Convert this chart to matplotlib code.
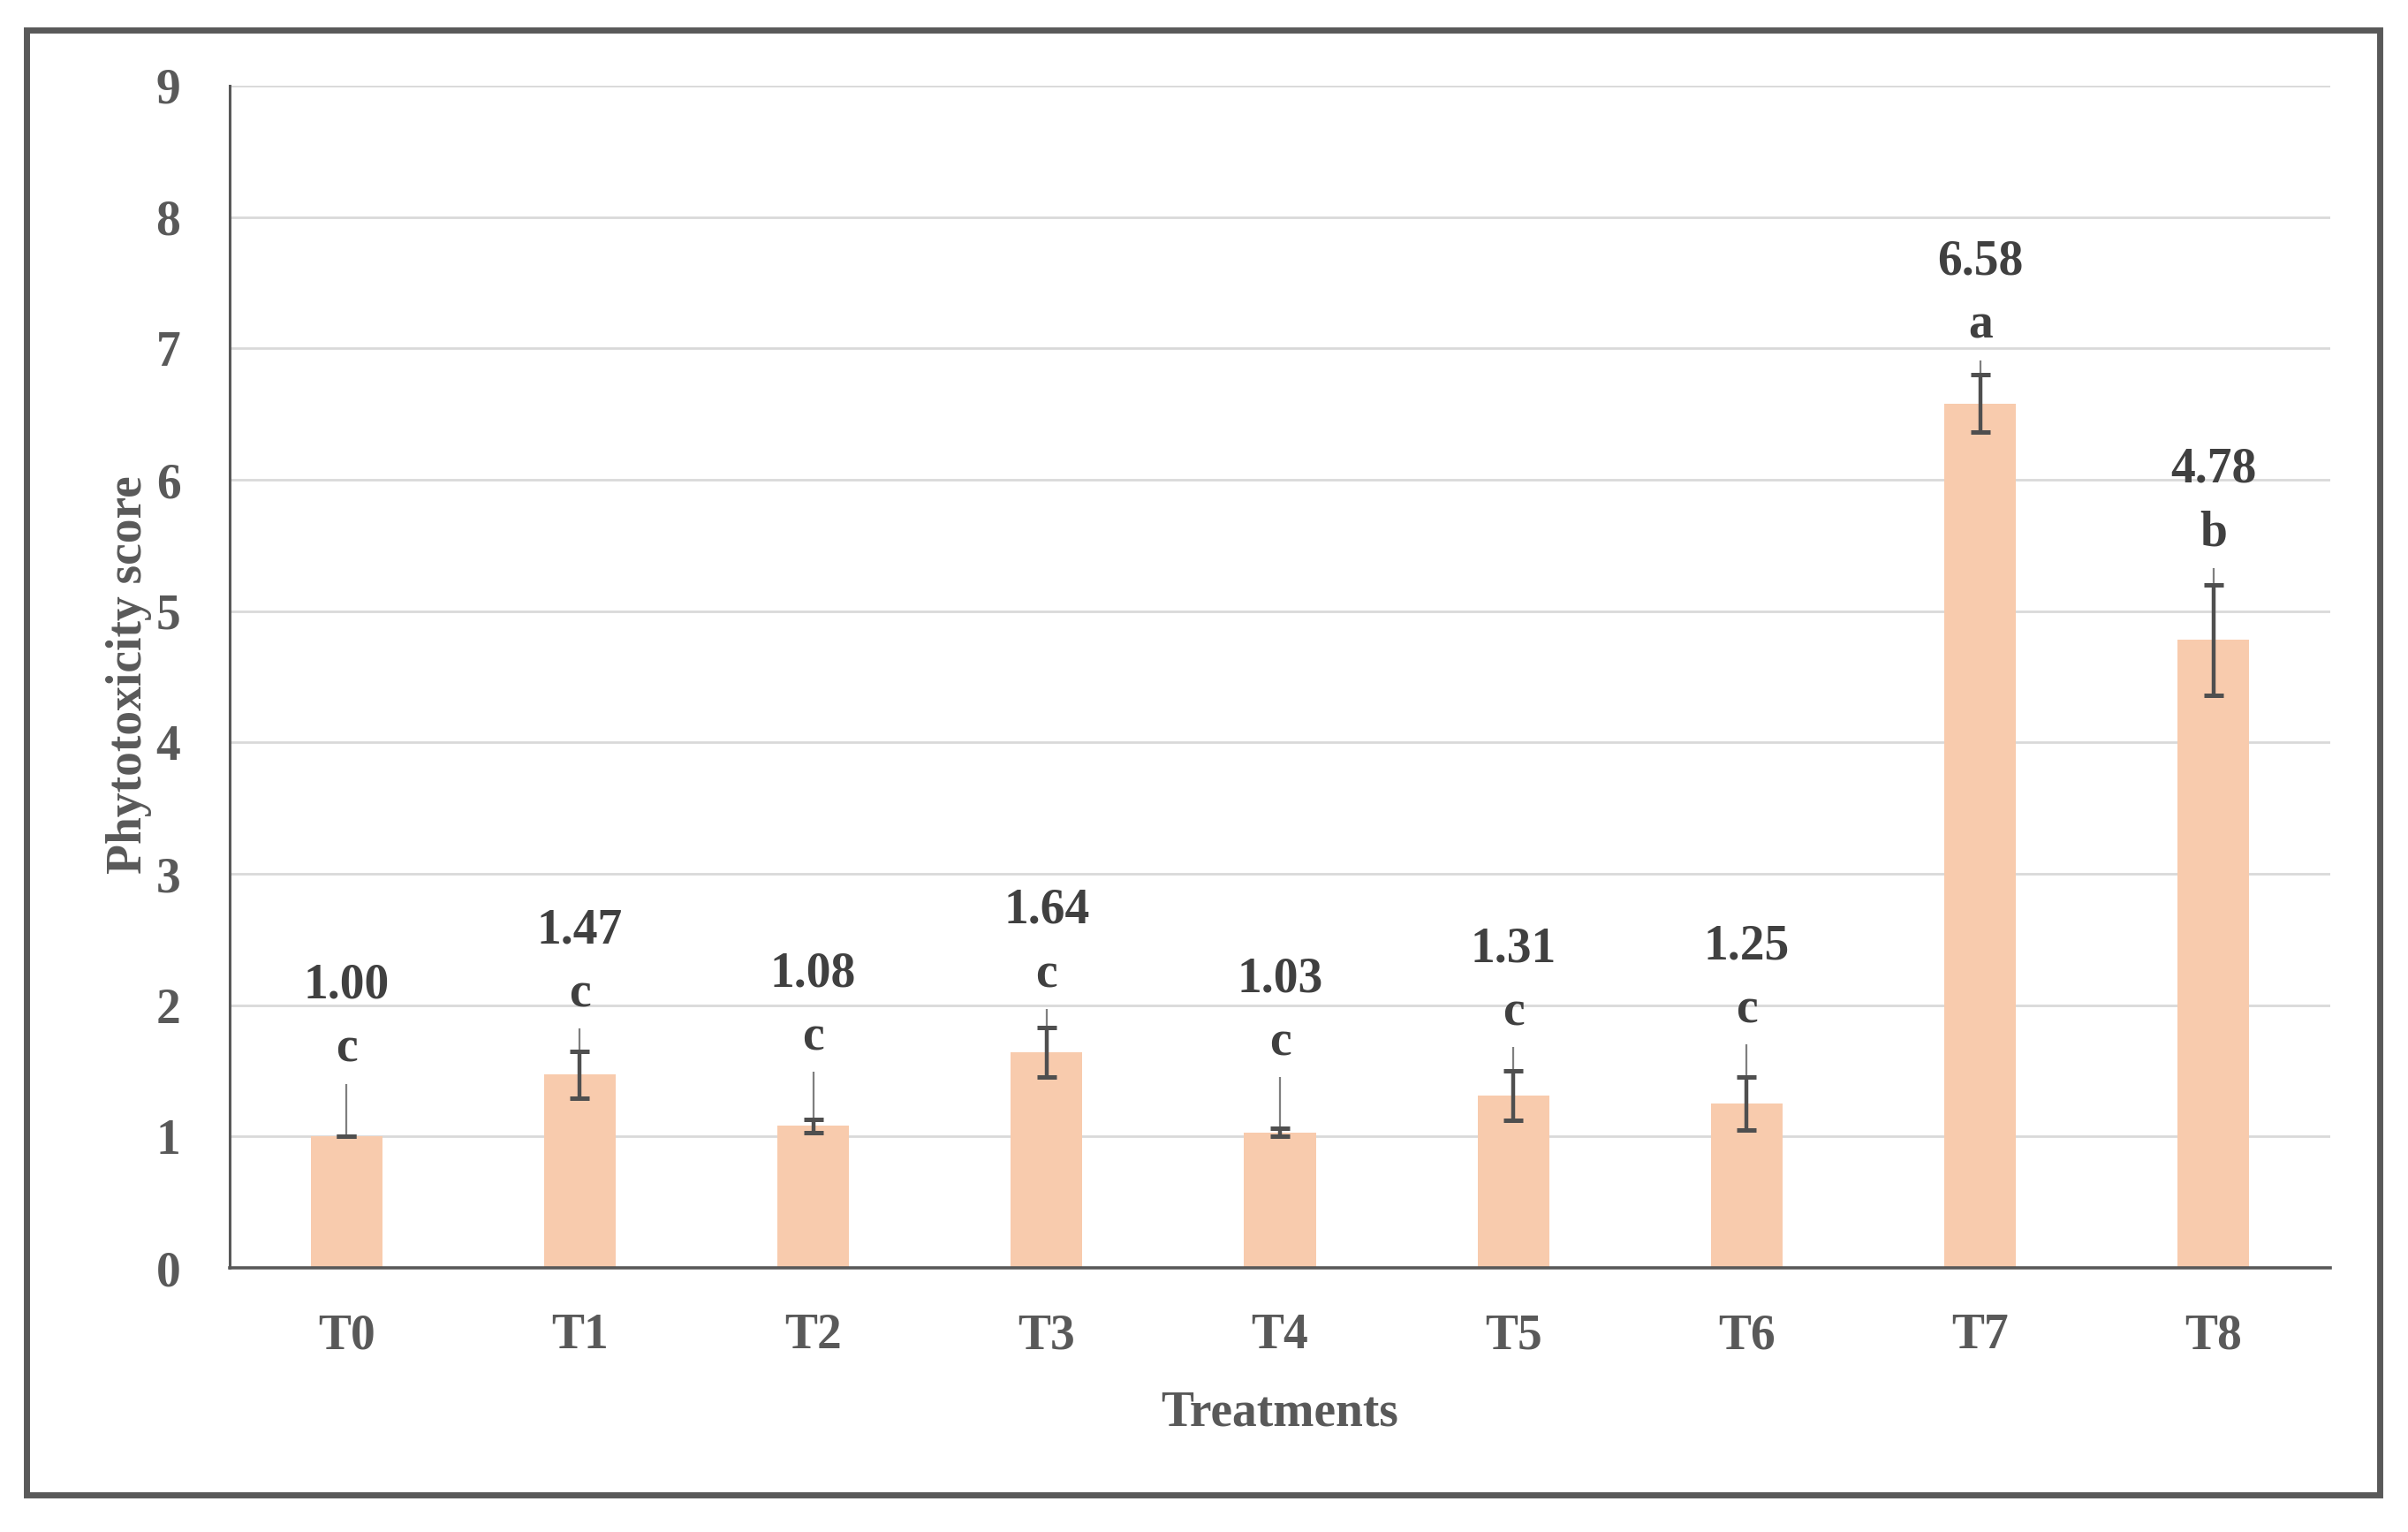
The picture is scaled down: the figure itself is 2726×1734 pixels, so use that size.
import matplotlib
matplotlib.use("Agg")
import matplotlib.pyplot as plt
from matplotlib.patches import Rectangle
import numpy as np

# ---- data ----
treatments = ["T0", "T1", "T2", "T3", "T4", "T5", "T6", "T7", "T8"]
scores = [1.00, 1.47, 1.08, 1.64, 1.03, 1.31, 1.25, 6.58, 4.78]
errors = [0.00, 0.18, 0.05, 0.19, 0.03, 0.19, 0.20, 0.22, 0.42]
leader_tops = [1.40, 1.82, 1.49, 1.97, 1.45, 1.68, 1.70, 6.91, 5.33]
letters = ["c", "c", "c", "c", "c", "c", "c", "a", "b"]
yticks = [0, 1, 2, 3, 4, 5, 6, 7, 8, 9]

plt.rcParams['font.family'] = ['Liberation Serif', 'DejaVu Serif']

W, H, DPI = 2726, 1734, 200
fig = plt.figure(figsize=(W / DPI, H / DPI), dpi=DPI)
fig.patch.set_facecolor("white")

ax = fig.add_axes([260 / W, 1 - 1435 / H, (2638 - 260) / W, (1435 - 97) / H])

x = np.arange(len(treatments))
bar_color = "#F8CBAD"
dark = "#595959"

ax.bar(x, scores, width=0.307, color=bar_color, zorder=2)
ax.vlines(x, scores, leader_tops, color="#7F7F7F", linewidth=0.8, zorder=3)
ax.errorbar(x, scores, yerr=errors, fmt="none", ecolor="#4F4F4F",
            elinewidth=1.6, capsize=4.1, capthick=1.8, zorder=4)

for xi, top, val, let in zip(x, leader_tops, scores, letters):
    ax.annotate(let, (xi, top), xytext=(0, 9), textcoords="offset points",
                ha="center", va="baseline", fontsize=20, fontweight="bold",
                color="#404040")
    ax.annotate(f"{val:.2f}", (xi, top), xytext=(0, 35), textcoords="offset points",
                ha="center", va="baseline", fontsize=20, fontweight="bold",
                color="#404040")

ax.set_xlim(-0.5, len(treatments) - 0.5)
ax.set_ylim(0, 9)
ax.set_yticks(yticks)
ax.set_yticklabels([str(t) for t in yticks])
ax.set_xticks(x)
ax.set_xticklabels(treatments)

ax.grid(axis="y", color="#D9D9D9", linewidth=1.0, zorder=0)
ax.set_axisbelow(True)
for s in ["top", "right"]:
    ax.spines[s].set_visible(False)
ax.spines["left"].set_color(dark)
ax.spines["left"].set_linewidth(1.1)
ax.spines["bottom"].set_color(dark)
ax.spines["bottom"].set_linewidth(1.3)
ax.spines["bottom"].set_zorder(5)

ax.tick_params(axis="both", length=0, labelsize=20, labelcolor=dark)
ax.tick_params(axis="y", pad=20)
ax.tick_params(axis="x", pad=18.5)
for lab in ax.get_xticklabels() + ax.get_yticklabels():
    lab.set_fontweight("bold")

fig.text(1449 / W, 1 - 1613 / H, "Treatments", ha="center", va="baseline",
         fontsize=20, fontweight="bold", color=dark)
fig.text(146 / W, 1 - 764 / H, "Phytotoxicity score", ha="center", va="center",
         rotation=90, fontsize=20, fontweight="bold", color=dark)

# outer frame
fig.patches.append(Rectangle((30 / W, 1 - 1692 / H), (2694 - 30) / W, (1692 - 34) / H,
                             transform=fig.transFigure, fill=False,
                             edgecolor=dark, linewidth=2.5, zorder=10))

fig.savefig("out.png", dpi=DPI, facecolor="white")
